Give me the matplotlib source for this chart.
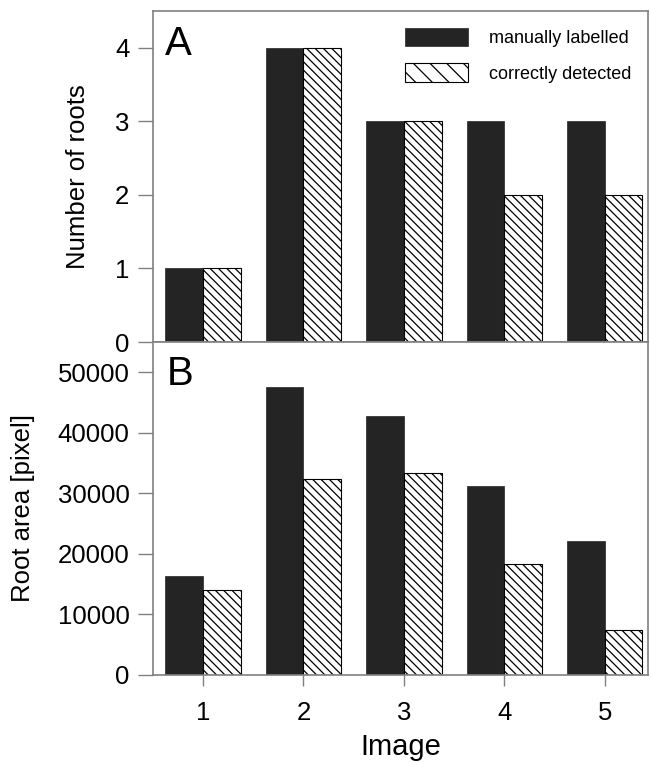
import matplotlib
matplotlib.use("Agg")
import matplotlib.pyplot as plt
from matplotlib.patches import Patch
import numpy as np

images = [1, 2, 3, 4, 5]
num_manual = [1, 4, 3, 3, 3]
num_detected = [1, 4, 3, 2, 2]
area_manual = [16300, 47600, 42700, 31200, 22100]
area_detected = [14100, 32300, 33400, 18300, 7500]
labels = ["manually labelled", "correctly detected"]

plt.rcParams['font.family'] = ['Liberation Sans', 'DejaVu Sans']
plt.rcParams['hatch.linewidth'] = 0.9

W, H = 651, 764
fig = plt.figure(figsize=(W / 100, H / 100), dpi=100)

def frac(l, r, t, b):
    return [l / W, 1 - b / H, (r - l) / W, (b - t) / H]

axA = fig.add_axes(frac(153, 648, 11, 342))
axB = fig.add_axes(frac(153, 648, 342, 675))

x = np.array(images, dtype=float)
bw = 0.375
dark = '#242424'
spine_col = '#808080'

for ax, m, d in [(axA, num_manual, num_detected), (axB, area_manual, area_detected)]:
    ax.bar(x - bw / 2, m, width=bw, color=dark, edgecolor=dark, linewidth=0.5)
    ax.bar(x + bw / 2, d, width=bw, facecolor='white', edgecolor='black', linewidth=0.8,
           hatch='\\\\\\\\')
    ax.set_xlim(0.503, 5.43)
    for s in ax.spines.values():
        s.set_color(spine_col)
        s.set_linewidth(1.2)
    ax.tick_params(axis='y', direction='out', length=11, width=1.0, color=spine_col,
                   labelsize=18.5, pad=6)

axA.set_ylim(0, 4.5)
axA.set_yticks([0, 1, 2, 3, 4])
axA.set_xticks([])
axA.set_ylabel("Number of roots", fontsize=18.5)
axA.yaxis.label.set_verticalalignment('center')
axA.yaxis.set_label_coords(-0.152, 0.5)

axB.set_ylim(0, 55000)
axB.set_yticks([0, 10000, 20000, 30000, 40000, 50000])
axB.set_xticks(images)
axB.tick_params(axis='x', direction='out', length=8, width=1.0, color=spine_col,
                labelsize=18.5, pad=11)
axB.set_xlabel("Image", fontsize=21)
axB.xaxis.label.set_verticalalignment('center')
axB.xaxis.set_label_coords(0.5, -0.215)
axB.set_ylabel("Root area [pixel]", fontsize=18.5)
axB.yaxis.label.set_verticalalignment('center')
axB.yaxis.set_label_coords(-0.263, 0.5)

axA.text(0.024, 0.867, "A", transform=axA.transAxes, fontsize=29, va='baseline', ha='left')
axB.text(0.028, 0.871, "B", transform=axB.transAxes, fontsize=29, va='baseline', ha='left')

handles = [Patch(facecolor=dark, edgecolor=dark, linewidth=0.5),
           Patch(facecolor='white', edgecolor='black', linewidth=0.8, hatch='\\\\')]
axA.legend(handles, labels, loc='upper left', bbox_to_anchor=(0.509, 0.95), frameon=False,
           fontsize=13, handlelength=3.5, handleheight=1.22, handletextpad=1.15,
           labelspacing=0.9, borderpad=0, borderaxespad=0)

fig.savefig("out.png", dpi=100)
